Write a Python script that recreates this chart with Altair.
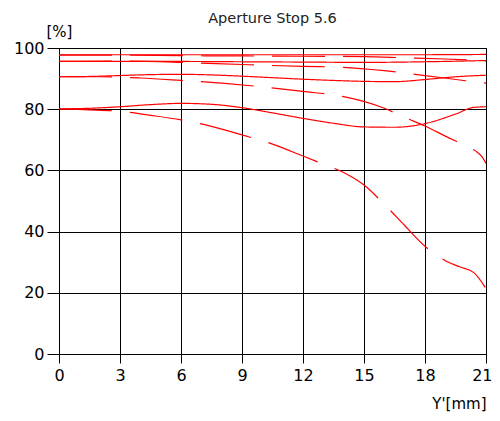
import altair as alt
import pandas as pd

# Image height Y' [mm] and MTF [%] values
x_s5 = [0, 3, 6, 9, 12, 15, 18, 21]
y_s5 = [97.8, 97.8, 97.8, 97.8, 97.8, 97.8, 97.8, 97.9]

x_s10 = [0, 3, 6, 9, 12, 15, 18, 21]
y_s10 = [95.6, 95.6, 95.6, 95.5, 95.4, 95.3, 95.5, 95.9]

x_s20 = [0, 1.5, 3, 4.5, 6, 7.5, 9, 10.5, 12, 13.5, 15, 16.5, 18, 19.5, 21]
y_s20 = [90.6, 90.7, 91.0, 91.3, 91.4, 91.2, 90.8, 90.3, 89.8, 89.4, 89.1, 89.0, 89.7, 90.6, 91.1]

x_s40 = [0, 1.5, 3, 4.5, 6, 7.5, 9, 10.5, 12, 13.5, 15, 16.5, 18, 19.5, 20.4, 21]
y_s40 = [80.1, 80.3, 80.8, 81.5, 81.9, 81.6, 80.5, 78.8, 77.0, 75.4, 74.2, 74.1, 75.3, 78.4, 80.6, 80.8]

x_t5 = [0, 3, 6, 9, 12, 15, 17, 19, 21]
y_t5 = [97.7, 97.7, 97.5, 97.4, 97.3, 97.2, 96.8, 96.4, 95.8]

x_t10 = [0, 3, 6, 9, 12, 14, 16, 18, 20, 21]
y_t10 = [95.6, 95.7, 95.3, 94.6, 94.0, 93.7, 92.6, 91.0, 89.3, 88.5]

x_t20 = [0, 2, 4, 6, 8, 10, 12, 14, 16, 17, 18, 19, 20, 20.5, 20.8, 21]
y_t20 = [90.6, 90.6, 90.2, 89.4, 88.5, 87.3, 85.8, 84.1, 80.3, 77.3, 74.5, 71.2, 68.0, 66.3, 64.5, 62.3]

x_t40 = [0, 1.5, 3, 4.5, 6, 7.5, 9, 10.5, 12, 13, 14, 15, 16, 17, 18, 19, 19.7, 20.4, 21]
y_t40 = [80.1, 79.8, 79.3, 78.0, 76.5, 74.4, 71.6, 68.6, 64.7, 62.0, 59.3, 55.2, 48.9, 42.0, 35.2, 30.5, 28.5, 26.6, 21.4]

series = [
    ("s5", "sagittal", x_s5, y_s5),
    ("s10", "sagittal", x_s10, y_s10),
    ("s20", "sagittal", x_s20, y_s20),
    ("s40", "sagittal", x_s40, y_s40),
    ("t5", "tangential", x_t5, y_t5),
    ("t10", "tangential", x_t10, y_t10),
    ("t20", "tangential", x_t20, y_t20),
    ("t40", "tangential", x_t40, y_t40),
]

rows = []
for name, kind, xs, ys in series:
    for i, (xv, yv) in enumerate(zip(xs, ys)):
        rows.append({"series": name, "kind": kind, "x": xv, "y": yv, "order": i})
df = pd.DataFrame(rows)

FONT = "DejaVu Sans"

common_axis = dict(
    grid=True,
    gridColor="#000000",
    gridOpacity=1,
    gridWidth=1,
    domainColor="#000000",
    domainWidth=1,
    tickColor="#000000",
    tickWidth=1,
    titleFontWeight="normal",
    titleFontSize=15,
    titleFont=FONT,
    titleColor="#000000",
    titleAngle=0,
    titleBaseline="alphabetic",
    labelFontSize=16,
    labelFont=FONT,
    labelColor="#000000",
)

chart = (
    alt.Chart(df)
    .mark_line(strokeWidth=1.2, interpolate="monotone", strokeCap="butt", color="#ff0000")
    .encode(
        x=alt.X(
            "x:Q",
            scale=alt.Scale(domain=[0, 21], nice=False, zero=False),
            axis=alt.Axis(
                values=[0, 3, 6, 9, 12, 15, 18, 21],
                title="Y'[mm]",
                titleAlign="right",
                titleX=427,
                titleY=54,
                tickSize=9,
                labelPadding=4,
                labelFlush=False,
                labelAlign={"condition": {"test": "datum.value == 21", "value": "right"}, "value": "center"},
                labelOffset={"condition": {"test": "datum.value == 21", "value": 6}, "value": 0},
                **common_axis,
            ),
        ),
        y=alt.Y(
            "y:Q",
            scale=alt.Scale(domain=[0, 100], nice=False),
            axis=alt.Axis(
                values=[0, 20, 40, 60, 80, 100],
                title="[%]",
                titleAlign="center",
                titleX=0,
                titleY=-12,
                tickSize=12,
                labelPadding=3,
                **common_axis,
            ),
        ),
        detail="series:N",
        order="order:Q",
        strokeDash=alt.StrokeDash(
            "kind:N",
            scale=alt.Scale(domain=["sagittal", "tangential"], range=[[1, 0], [53, 18]]),
            legend=None,
        ),
    )
    .properties(
        width=427,
        height=306,
        background="#ffffff",
        title=alt.TitleParams(
            "Aperture Stop 5.6",
            fontSize=14.5,
            font=FONT,
            fontWeight="normal",
            color="#222222",
            anchor="middle",
            offset=-2,
        ),
        autosize=alt.AutoSizeParams(type="none"),
        padding={"left": 51, "top": 40, "right": 6, "bottom": 59},
    )
    .configure_view(stroke="#000000", strokeWidth=1)
)

chart.save("out.html", embed_options={"renderer": "svg", "actions": False})
